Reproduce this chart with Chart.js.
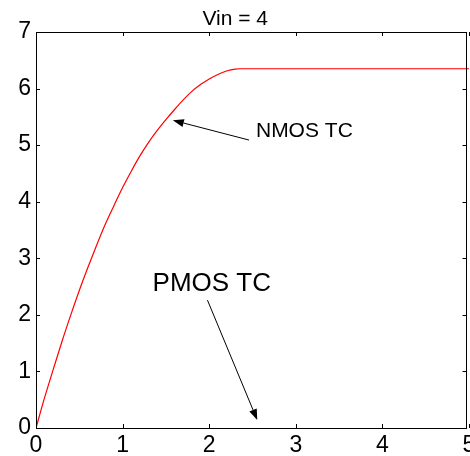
<!DOCTYPE html>
<html>
<head>
<meta charset="utf-8">
<script src="https://cdn.jsdelivr.net/npm/chart.js@4.4.1/dist/chart.umd.min.js"></script>
<style>
html,body{margin:0;padding:0;background:#fff;}
#wrap{width:470px;height:456px;}
</style>
</head>
<body>
<div id="wrap"><canvas id="c" width="470" height="456"></canvas></div>
<script>
// Data
const titleText = "Vin = 4";
const xValues = [0, 0.1, 0.2, 0.3, 0.4, 0.5, 0.6, 0.7, 0.8, 0.9, 1.0, 1.1, 1.2, 1.3, 1.4, 1.5, 1.6, 1.7, 1.8, 1.9, 2.0, 2.1, 2.2, 2.3, 2.35, 5];
const yValues = [0, 0.54, 1.04, 1.53, 1.99, 2.43, 2.84, 3.23, 3.60, 3.93, 4.25, 4.54, 4.81, 5.05, 5.26, 5.45, 5.63, 5.80, 5.95, 6.07, 6.17, 6.25, 6.31, 6.345, 6.35, 6.35];
const xTicks = [0, 1, 2, 3, 4, 5];
const yTicks = [0, 1, 2, 3, 4, 5, 6, 7];
const annoLabels = ["NMOS TC", "PMOS TC"];
const annoTextPos = [[2.54, 5.245], [2.03, 2.55]];   // data coords (NMOS: left edge, PMOS: centre)
const arrowTails = [[2.46, 5.09], [1.98, 2.26]];
const arrowHeads = [[1.58, 5.44], [2.555, 0.14]];

const FONT = "'Liberation Sans', Arial, sans-serif";

const points = xValues.map((x, i) => ({x: x, y: yValues[i]}));

function drawArrow(ctx, x1, y1, x2, y2) {
  const ang = Math.atan2(y2 - y1, x2 - x1);
  const L = 11, W = 4;
  const bx = x2 - L * Math.cos(ang), by = y2 - L * Math.sin(ang);
  ctx.beginPath();
  ctx.moveTo(x1, y1);
  ctx.lineTo(bx, by);
  ctx.stroke();
  ctx.beginPath();
  ctx.moveTo(x2, y2);
  ctx.lineTo(bx + W * Math.sin(ang), by - W * Math.cos(ang));
  ctx.lineTo(bx - W * Math.sin(ang), by + W * Math.cos(ang));
  ctx.closePath();
  ctx.fill();
}

const decor = {
  id: 'decor',
  afterDatasetsDraw(chart) {
    const ctx = chart.ctx, a = chart.chartArea;
    const xs = chart.scales.x, ys = chart.scales.y;
    ctx.save();
    // box
    ctx.strokeStyle = '#000';
    ctx.lineWidth = 1;
    ctx.strokeRect(Math.round(a.left) + 0.5, Math.round(a.top) + 0.5, Math.round(a.right - a.left) - 3, Math.round(a.bottom - a.top));
    // inward ticks
    const tl = 4;
    const rx = Math.round(a.left) + Math.round(a.right - a.left) - 2.5;
    ctx.beginPath();
    xTicks.forEach(v => {
      const px = Math.round(xs.getPixelForValue(v)) + 0.5;
      ctx.moveTo(px, a.bottom); ctx.lineTo(px, a.bottom - tl);
      ctx.moveTo(px, a.top); ctx.lineTo(px, a.top + tl);
    });
    yTicks.forEach(v => {
      const py = Math.round(ys.getPixelForValue(v)) + 0.5;
      ctx.moveTo(a.left, py); ctx.lineTo(a.left + tl, py);
      ctx.moveTo(rx, py); ctx.lineTo(rx - tl, py);
    });
    ctx.stroke();
    // title
    ctx.fillStyle = '#000';
    ctx.font = '21px ' + FONT;
    ctx.textAlign = 'center';
    ctx.textBaseline = 'alphabetic';
    ctx.fillText(titleText, xs.getPixelForValue(2.3), 25);
    // annotations
    ctx.textBaseline = 'middle';
    ctx.font = '21px ' + FONT;
    ctx.textAlign = 'left';
    ctx.fillText(annoLabels[0], xs.getPixelForValue(annoTextPos[0][0]), ys.getPixelForValue(annoTextPos[0][1]));
    ctx.font = '26px ' + FONT;
    ctx.textAlign = 'center';
    ctx.fillText(annoLabels[1], xs.getPixelForValue(annoTextPos[1][0]), ys.getPixelForValue(annoTextPos[1][1]));
    ctx.lineWidth = 1;
    for (let i = 0; i < arrowTails.length; i++) {
      drawArrow(ctx,
        xs.getPixelForValue(arrowTails[i][0]), ys.getPixelForValue(arrowTails[i][1]),
        xs.getPixelForValue(arrowHeads[i][0]), ys.getPixelForValue(arrowHeads[i][1]));
    }
    ctx.restore();
  }
};

new Chart(document.getElementById('c'), {
  type: 'scatter',
  data: {
    datasets: [{
      data: points,
      showLine: true,
      borderColor: '#ff0000',
      borderWidth: 1.2,
      pointRadius: 0,
      cubicInterpolationMode: 'monotone',
      fill: false
    }]
  },
  options: {
    responsive: false,
    animation: false,
    events: [],
    layout: { padding: { left: 0, right: 1, top: 32, bottom: 0 } },
    plugins: { legend: { display: false }, tooltip: { enabled: false }, title: { display: false } },
    scales: {
      x: {
        type: 'linear', min: 0, max: 5,
        grid: { display: false, drawTicks: false },
        border: { display: false },
        afterBuildTicks(s) { s.ticks = xTicks.map(v => ({value: v})); },
        afterFit(s) { s.height = 28; s.paddingLeft = 0; s.paddingRight = 0; },
        ticks: { autoSkip: false, maxRotation: 0, padding: 4, color: '#000', font: { family: FONT, size: 23 } }
      },
      y: {
        type: 'linear', min: 0, max: 7,
        grid: { display: false, drawTicks: false },
        border: { display: false },
        afterBuildTicks(s) { s.ticks = yTicks.map(v => ({value: v})); },
        afterFit(s) { s.width = 36; s.paddingTop = 0; s.paddingBottom = 0; },
        ticks: { autoSkip: false, padding: 5, color: '#000', font: { family: FONT, size: 23 } }
      }
    }
  },
  plugins: [decor]
});
</script>
</body>
</html>
